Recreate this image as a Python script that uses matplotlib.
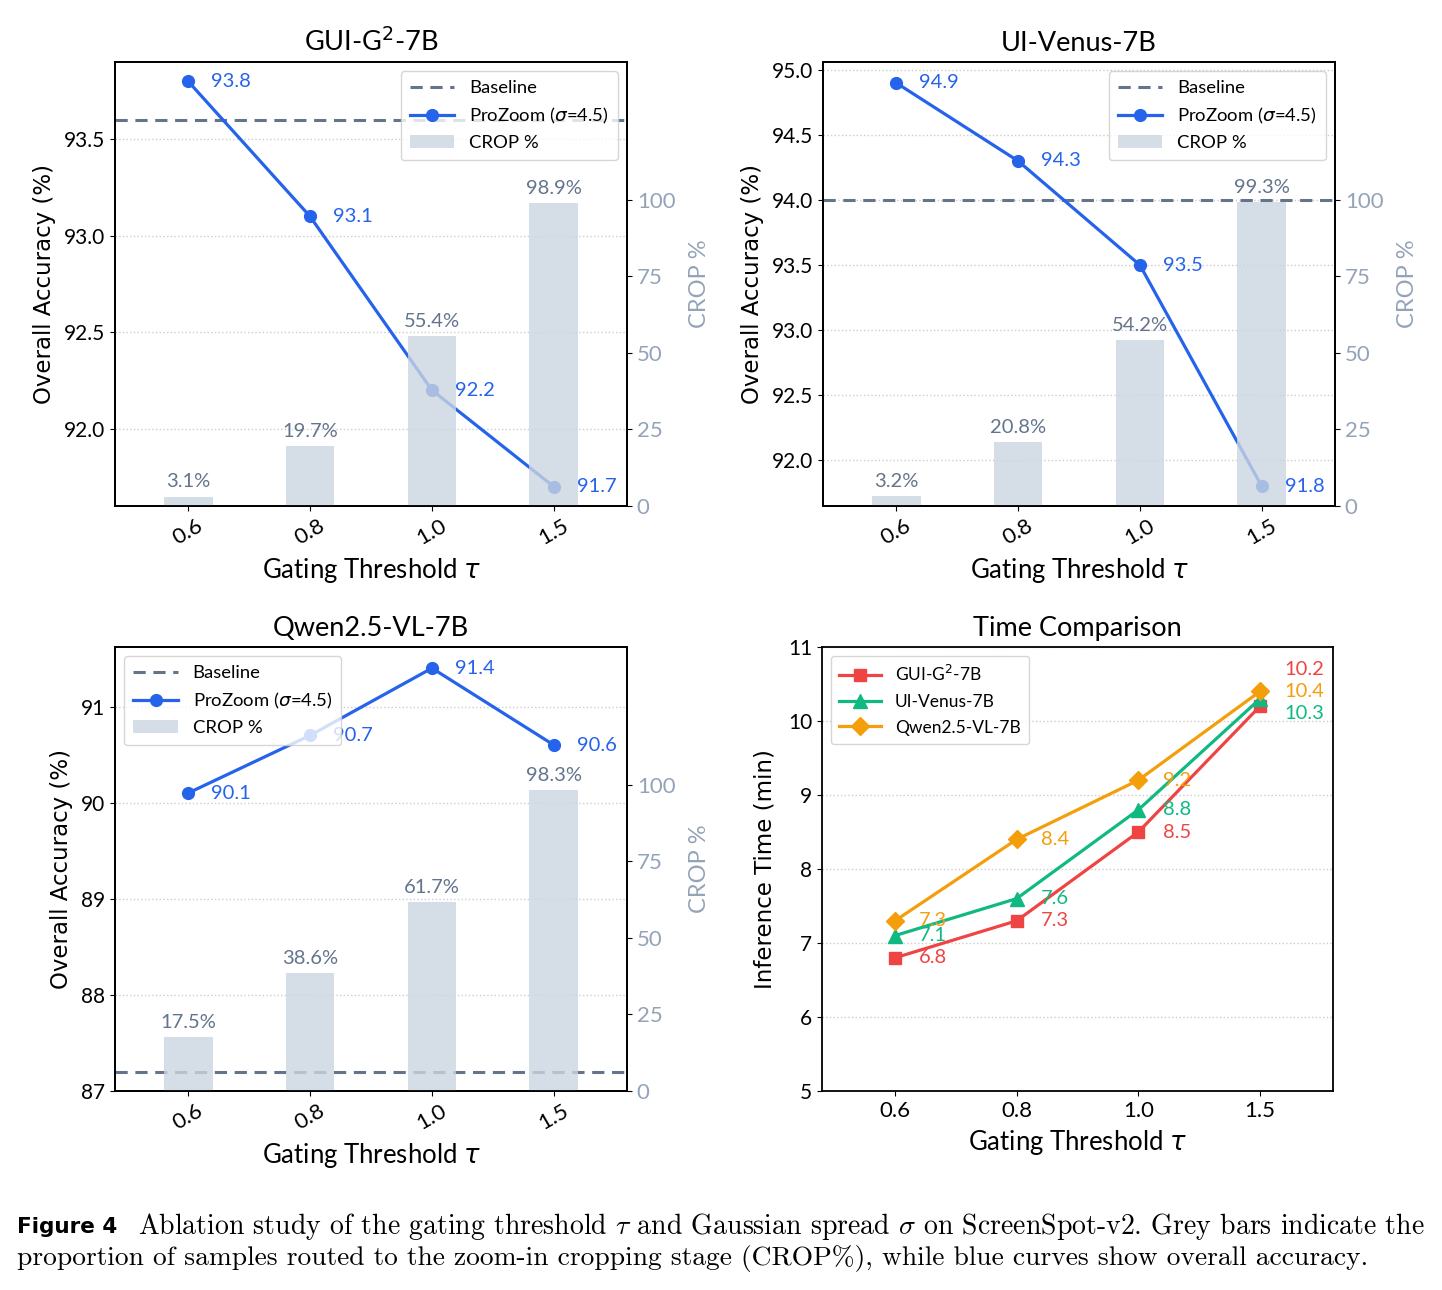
import matplotlib
matplotlib.use('Agg')
import matplotlib.pyplot as plt
from matplotlib.patches import Patch
from matplotlib.lines import Line2D
import numpy as np

# ---------------- data ----------------
thresholds = ['0.6', '0.8', '1.0', '1.5']

gui_acc = [93.8, 93.1, 92.2, 91.7]
gui_crop = [3.1, 19.7, 55.4, 98.9]
gui_base = 93.6

venus_acc = [94.9, 94.3, 93.5, 91.8]
venus_crop = [3.2, 20.8, 54.2, 99.3]
venus_base = 94.0

qwen_acc = [90.1, 90.7, 91.4, 90.6]
qwen_crop = [17.5, 38.6, 61.7, 98.3]
qwen_base = 87.2

time_gui = [6.8, 7.3, 8.5, 10.2]
time_venus = [7.1, 7.6, 8.8, 10.3]
time_qwen = [7.3, 8.4, 9.2, 10.4]

model_names = ['GUI-G$^2$-7B', 'UI-Venus-7B', 'Qwen2.5-VL-7B']

# ---------------- style ----------------
FONT = 'Lato'
plt.rcParams['font.family'] = [FONT, 'DejaVu Sans']
BLUE = '#2563eb'
SLATE = '#64748b'
SLATE_L = '#94a3b8'
BAR = '#cbd5e1'
RED = '#ef4444'
GREEN = '#10b981'
ORANGE = '#f59e0b'

TICK_FS = 15
VAL_FS = 14.5
XLAB_FS = 18.5
YLAB_FS = 16.5
TITLE_FS = 19.5

W, H = 1442, 1290
fig = plt.figure(figsize=(W / 100, H / 100), dpi=100)


def px_axes(l, t, r, b):
    return fig.add_axes([l / W, 1 - b / H, (r - l) / W, (b - t) / H])


x = np.arange(len(thresholds))


def acc_panel(ax, title, acc, crop, base, ylim, yticks, legend_loc):
    ax.set_xlim(-0.6, 3.6)
    ax.set_ylim(*ylim)
    ax.set_yticks(yticks)
    ax.grid(axis='y', linestyle=':', color='#cccccc', linewidth=1.0)
    ax.set_axisbelow(True)
    ax.axhline(base, color=SLATE, linestyle='--', linewidth=2.2, dashes=(4, 2.5))
    ax.plot(x, acc, color=BLUE, linewidth=2.3, marker='o', markersize=8.5)
    for xi, v in zip(x, acc):
        ax.text(xi + 0.19, v, f'{v:.1f}', color=BLUE, fontsize=VAL_FS,
                ha='left', va='center')
    ax.set_xticks(x)
    ax.set_xticklabels(thresholds, rotation=30, fontsize=16)
    ax.tick_params(axis='y', labelsize=TICK_FS)
    ax.set_xlabel('Gating Threshold $\\tau$', fontsize=XLAB_FS,
                  math_fontfamily='dejavusans', labelpad=5)
    ax.set_ylabel('Overall Accuracy (%)', fontsize=YLAB_FS, family='DejaVu Sans',
                  labelpad=6)
    ax.set_title(title, fontsize=TITLE_FS, pad=8, math_fontfamily='dejavusans')
    for s in ax.spines.values():
        s.set_linewidth(1.3)

    ax2 = ax.twinx()
    ax2.bar(x, crop, width=0.4, color=BAR, alpha=0.8)
    for xi, c in zip(x, crop):
        ax2.text(xi, c + 2.0, f'{c:.1f}%', color=SLATE, fontsize=VAL_FS,
                 ha='center', va='bottom')
    ax2.set_ylim(0, 145)
    ax2.set_yticks([0, 25, 50, 75, 100])
    ax2.tick_params(axis='y', labelcolor=SLATE_L, labelsize=16)
    ax2.set_ylabel('CROP %', color=SLATE_L, fontsize=17, labelpad=10)
    for s in ax2.spines.values():
        s.set_linewidth(1.3)

    handles = [Line2D([], [], color=SLATE, linestyle='--', linewidth=2.2, dashes=(4, 2.5)),
               Line2D([], [], color=BLUE, linewidth=2.3, marker='o', markersize=8.5),
               Patch(facecolor=BAR, alpha=0.8)]
    labels = ['Baseline', 'ProZoom ($\\sigma$=4.5)', 'CROP %']
    ax2.legend(handles, labels, loc=legend_loc,
               prop={'family': FONT, 'size': 13.3, 'math_fontfamily': 'dejavusans'},
               borderpad=0.5, labelspacing=0.5, handlelength=2.4)
    return ax, ax2


ax1 = px_axes(115, 62, 627, 506)
acc_panel(ax1, model_names[0], gui_acc, gui_crop, gui_base,
          (91.6, 93.9), [92.0, 92.5, 93.0, 93.5], 'upper right')

ax2 = px_axes(823, 62, 1335, 506)
acc_panel(ax2, model_names[1], venus_acc, venus_crop, venus_base,
          (91.65, 95.06), [92.0, 92.5, 93.0, 93.5, 94.0, 94.5, 95.0], 'upper right')

ax3 = px_axes(115, 647, 627, 1091)
acc_panel(ax3, model_names[2], qwen_acc, qwen_crop, qwen_base,
          (87.0, 91.62), [87, 88, 89, 90, 91], 'upper left')

# ---------------- time panel ----------------
ax4 = px_axes(822, 647, 1333, 1091)
ax4.set_xlim(-0.6, 3.6)
ax4.set_ylim(5, 11)
ax4.set_yticks([5, 6, 7, 8, 9, 10, 11])
ax4.grid(axis='y', linestyle=':', color='#cccccc', linewidth=1.0)
ax4.set_axisbelow(True)
series = [(time_gui, RED, 's', 9), (time_venus, GREEN, '^', 9.5), (time_qwen, ORANGE, 'D', 9)]
last_offsets = [0.5, -0.2, 0.0]
for (vals, col, mk, ms), name, off in zip(series, model_names, last_offsets):
    ax4.plot(x, vals, color=col, marker=mk, linewidth=2.3, markersize=ms, label=name)
    for i, (xi, v) in enumerate(zip(x, vals)):
        dy = off if i == len(vals) - 1 else 0.0
        ax4.text(xi + 0.2, v + dy, f'{v:.1f}', color=col, fontsize=VAL_FS,
                 ha='left', va='center')
ax4.set_xticks(x)
ax4.set_xticklabels(thresholds, fontsize=16)
ax4.tick_params(axis='y', labelsize=TICK_FS)
ax4.set_xlabel('Gating Threshold $\\tau$', fontsize=XLAB_FS,
               math_fontfamily='dejavusans', labelpad=5)
ax4.set_ylabel('Inference Time (min)', fontsize=YLAB_FS, family='DejaVu Sans',
               labelpad=8)
ax4.set_title('Time Comparison', fontsize=TITLE_FS, pad=8)
for s in ax4.spines.values():
    s.set_linewidth(1.3)
ax4.legend(loc='upper left',
           prop={'family': FONT, 'size': 12.5, 'math_fontfamily': 'dejavusans'},
           borderpad=0.5, labelspacing=0.55, handlelength=2.4)

# ---------------- caption ----------------
fig.text(17 / W, 1 - 1227 / H, 'Figure 4', fontsize=15.5, weight='bold',
         family='DejaVu Sans', ha='left', va='center')
fig.text(138 / W, 1 - 1227 / H,
         'Ablation study of the gating threshold $\\tau$ and Gaussian spread $\\sigma$ '
         'on ScreenSpot-v2. Grey bars indicate the',
         fontsize=20, family='cmr10', math_fontfamily='cm', ha='left', va='center')
fig.text(17 / W, 1 - 1259 / H,
         'proportion of samples routed to the zoom-in cropping stage (CROP%), '
         'while blue curves show overall accuracy.',
         fontsize=19.8, family='cmr10', math_fontfamily='cm', ha='left', va='center')

fig.savefig('out.png', dpi=100)
